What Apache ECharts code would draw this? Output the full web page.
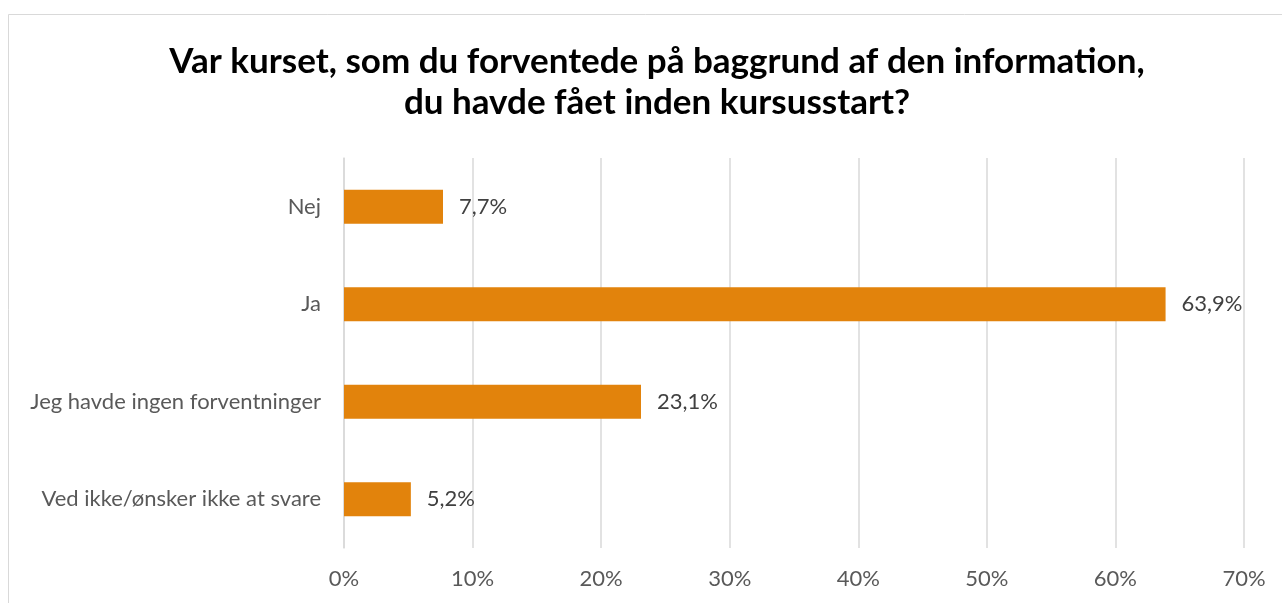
<!DOCTYPE html>
<html>
<head>
<meta charset="utf-8">
<script src="https://cdn.jsdelivr.net/npm/echarts@6/dist/echarts.min.js"></script>
<style>
  html, body { margin: 0; padding: 0; background: #fff; }
  #chart { width: 1282px; height: 603px; }
</style>
</head>
<body>
<div id="chart"></div>
<script>
// Survey answers, top to bottom
const categories = ['Nej', 'Ja', 'Jeg havde ingen forventninger', 'Ved ikke/ønsker ikke at svare'];
// Share of respondents, percent
const values = [7.7, 63.9, 23.1, 5.2];
// Axis range and tick step, percent
const axisMax = 70;
const axisStep = 10;

const chart = echarts.init(document.getElementById('chart'), null, { renderer: 'canvas' });
const fontFamily = 'Lato, "Open Sans", sans-serif';

chart.setOption({
  backgroundColor: '#ffffff',
  animation: false,
  title: {
    text: 'Var kurset, som du forventede på baggrund af den information,\ndu havde fået inden kursusstart?',
    left: 652,
    textAlign: 'center',
    top: 36,
    textStyle: {
      fontFamily: fontFamily,
      fontWeight: 'bold',
      fontSize: 35,
      lineHeight: 41,
      color: '#000000'
    }
  },
  graphic: [{
    type: 'polyline',
    shape: { points: [[8.5, 700], [8.5, 14.5], [1290, 14.5]] },
    style: { stroke: '#d9d9d9', lineWidth: 1, fill: null },
    silent: true
  }],
  grid: { left: 344, right: 38, top: 158, bottom: 55, containLabel: false },
  xAxis: {
    type: 'value',
    min: 0,
    max: axisMax,
    interval: axisStep,
    axisLine: { show: false },
    axisTick: { show: false },
    splitLine: { show: true, lineStyle: { color: '#d9d9d9', width: 1.5 } },
    axisLabel: {
      formatter: v => v + '%',
      color: '#595959',
      fontFamily: fontFamily,
      fontSize: 22,
      margin: 20
    }
  },
  yAxis: {
    type: 'category',
    data: categories,
    inverse: true,
    axisLine: { show: true, lineStyle: { color: '#d9d9d9', width: 1.5 } },
    axisTick: { show: false },
    axisLabel: {
      color: '#595959',
      fontFamily: fontFamily,
      fontSize: 22,
      margin: 23
    }
  },
  series: [{
    type: 'bar',
    data: values,
    barWidth: 34,
    itemStyle: { color: '#e2830c' },
    label: {
      show: true,
      position: 'right',
      distance: 16,
      formatter: p => p.value.toFixed(1).replace('.', ',') + '%',
      color: '#404040',
      fontFamily: fontFamily,
      fontSize: 22
    }
  }]
});
</script>
</body>
</html>
